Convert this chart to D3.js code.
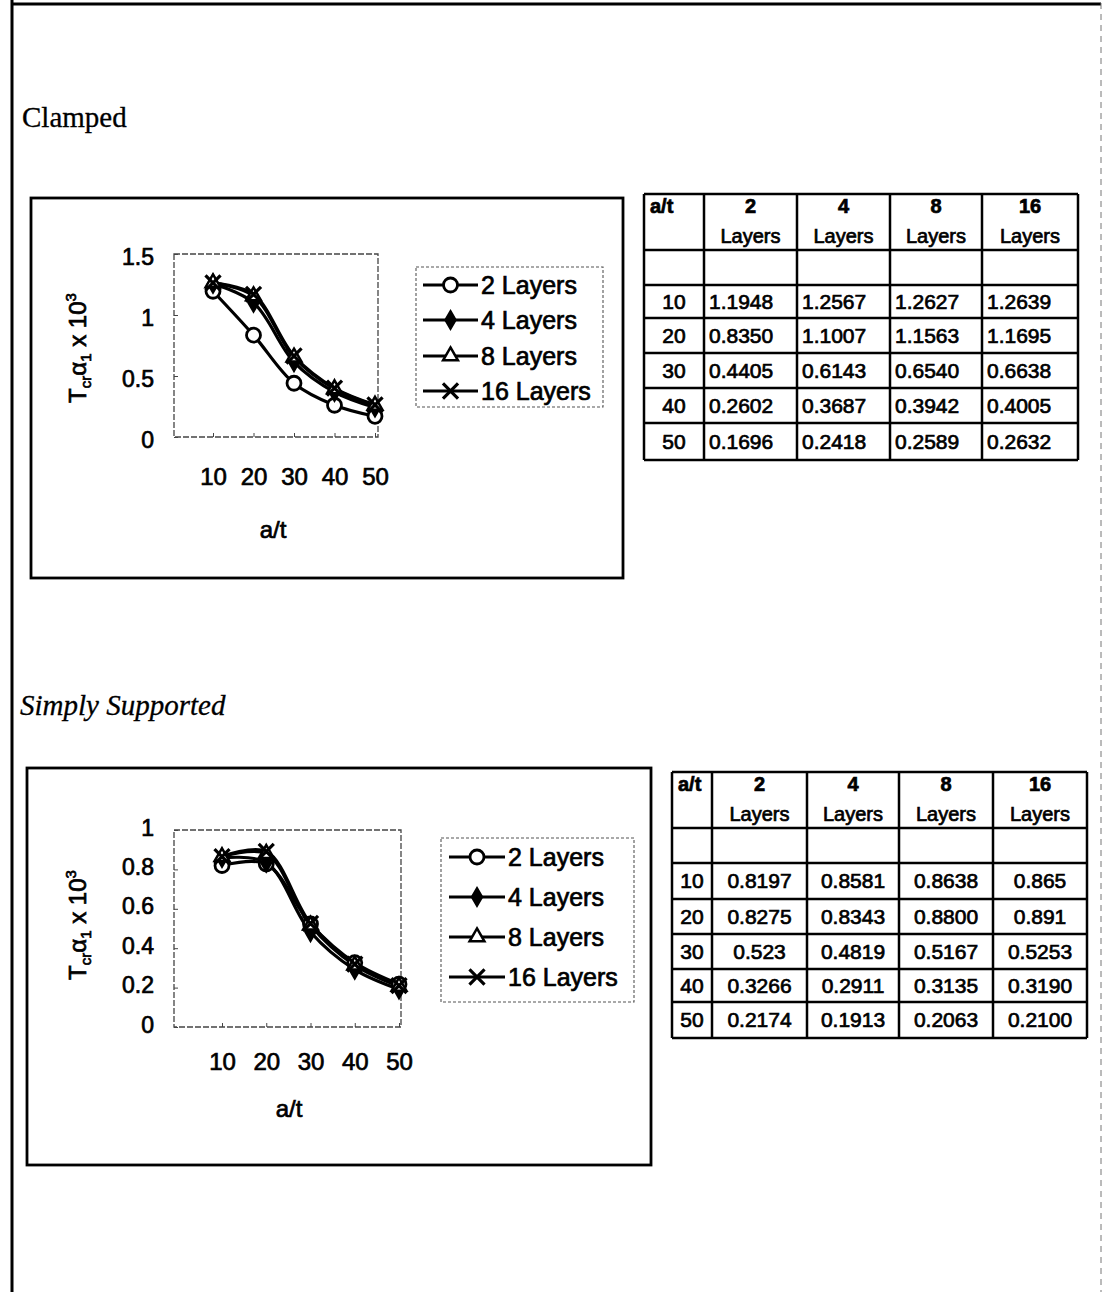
<!DOCTYPE html>
<html>
<head>
<meta charset="utf-8">
<script src="https://cdn.jsdelivr.net/npm/d3@7"></script>
<style>
  body { margin: 0; background: #fff; }
  svg { display: block; }
  .sans { font-family: "Liberation Sans", Arial, sans-serif; fill: #000; stroke: #000; stroke-width: 0.7; }
  .serif { font-family: "Liberation Serif", "Times New Roman", serif; fill: #000; stroke: #000; stroke-width: 0.3; }
</style>
</head>
<body>
<div id="page"></div>
<script>
// a/t values and series names
var atValues = [10, 20, 30, 40, 50];
var seriesNames = ['2 Layers', '4 Layers', '8 Layers', '16 Layers'];
var headNums = ['2', '4', '8', '16'];

// Clamped (as printed in the table)
var clamped2 = ['1.1948', '0.8350', '0.4405', '0.2602', '0.1696'];
var clamped4 = ['1.2567', '1.1007', '0.6143', '0.3687', '0.2418'];
var clamped8 = ['1.2627', '1.1563', '0.6540', '0.3942', '0.2589'];
var clamped16 = ['1.2639', '1.1695', '0.6638', '0.4005', '0.2632'];

// Simply supported
var simply2 = ['0.8197', '0.8275', '0.523', '0.3266', '0.2174'];
var simply4 = ['0.8581', '0.8343', '0.4819', '0.2911', '0.1913'];
var simply8 = ['0.8638', '0.8800', '0.5167', '0.3135', '0.2063'];
var simply16 = ['0.865', '0.891', '0.5253', '0.3190', '0.2100'];

var clampedTicks = [0, 0.5, 1, 1.5];
var simplyTicks = [0, 0.2, 0.4, 0.6, 0.8, 1];

var W = 1103, H = 1292;
var svg = d3.select('#page').append('svg').attr('width', W).attr('height', H);
svg.append('rect').attr('width', W).attr('height', H).attr('fill', '#fff');

// page frame (scanned page edges)
svg.append('line').attr('x1', 12).attr('x2', 12).attr('y1', 0).attr('y2', H)
    .attr('stroke', '#000').attr('stroke-width', 3);
svg.append('line').attr('x1', 11).attr('x2', 1101).attr('y1', 4).attr('y2', 4)
    .attr('stroke', '#000').attr('stroke-width', 3);
svg.append('line').attr('x1', 1101).attr('x2', 1101).attr('y1', 3).attr('y2', H)
    .attr('stroke', '#777').attr('stroke-width', 1).attr('stroke-dasharray', '6,5');

svg.append('text').attr('class', 'serif').attr('x', 22).attr('y', 127)
    .attr('font-size', 29).text('Clamped');
svg.append('text').attr('class', 'serif').attr('x', 20).attr('y', 715)
    .attr('font-size', 29).attr('font-style', 'italic').text('Simply Supported');

function num(arr){ return arr.map(function(s){ return +s; }); }

function marker(g, i, x, y){
    var s;
    if (i === 0){
        g.append('circle').attr('cx', x).attr('cy', y).attr('r', 7)
            .attr('fill', '#fff').attr('stroke', '#000').attr('stroke-width', 2.8);
        return;
    }
    if (i === 1) s = d3.symbol(d3.symbolDiamond, 85);
    if (i === 2) s = d3.symbol(d3.symbolTriangle, 95);
    if (i === 3) s = d3.symbol(d3.symbolX, 150);
    g.append('path').attr('d', s()).attr('transform', 'translate(' + x + ',' + y + ')')
        .attr('fill', i === 1 ? '#000' : (i === 2 ? '#fff' : 'none'))
        .attr('stroke', '#000').attr('stroke-width', i === 3 ? 3.2 : 2.5);
}

function drawChart(c){
    var g = svg.append('g');
    g.append('rect').attr('x', c.box[0]).attr('y', c.box[1])
        .attr('width', c.box[2] - c.box[0]).attr('height', c.box[3] - c.box[1])
        .attr('fill', 'none').attr('stroke', '#000').attr('stroke-width', 2.8);

    var x = d3.scalePoint().domain(atValues).range(c.xr);
    var y = d3.scaleLinear().domain([0, c.ymax]).range([c.plot[3], c.plot[1]]);

    g.append('rect').attr('x', c.plot[0]).attr('y', c.plot[1])
        .attr('width', c.plot[2] - c.plot[0]).attr('height', c.plot[3] - c.plot[1])
        .attr('fill', 'none').attr('stroke', '#444').attr('stroke-width', 1.3)
        .attr('stroke-dasharray', '6,2');

    var ya = g.append('g').attr('transform', 'translate(' + c.plot[0] + ',0)')
        .call(d3.axisLeft(y).tickValues(c.ticks).tickSize(-4).tickFormat(d3.format('~g')));
    ya.select('.domain').remove();
    ya.selectAll('line').attr('stroke', '#444');
    ya.selectAll('text').attr('class', 'sans').attr('x', -20).attr('dy', '0.35em')
        .attr('y', c.tickDy).attr('font-size', 23).attr('text-anchor', 'end');

    var xa = g.append('g').attr('transform', 'translate(0,' + c.plot[3] + ')')
        .call(d3.axisBottom(x).tickSize(-4));
    xa.select('.domain').remove();
    xa.selectAll('line').attr('stroke', '#444');
    xa.selectAll('text').attr('class', 'sans').attr('y', c.xlabY - c.plot[3])
        .attr('dy', '0.35em').attr('font-size', 24);
    ya.attr('font-family', null).attr('font-size', null);
    xa.attr('font-family', null).attr('font-size', null);

    g.append('text').attr('class', 'sans').attr('x', c.titleX[0]).attr('y', c.titleX[1])
        .attr('text-anchor', 'middle').attr('font-size', 24).text('a/t');

    // y title
    var t = g.append('text').attr('class', 'sans').attr('text-anchor', 'middle')
        .attr('transform', 'translate(' + c.titleY[0] + ',' + c.titleY[1] + ') rotate(-90)')
        .attr('dy', '0.35em').attr('font-size', 24);
    t.append('tspan').text('T');
    t.append('tspan').attr('font-size', 15).attr('dy', 5).text(c.crText);
    t.append('tspan').attr('dy', -5).text('α');
    t.append('tspan').attr('font-size', 15).attr('dy', 5).text('1');
    t.append('tspan').attr('dy', -5).text(' x 10');
    t.append('tspan').attr('font-size', 15).attr('dy', -10).text('3');

    var line = d3.line().x(function(d, i){ return x(atValues[i]); })
        .y(function(d){ return y(d); }).curve(d3.curveCatmullRom.alpha(0.5));

    c.series.forEach(function(s){
        g.append('path').attr('d', line(s)).attr('fill', 'none')
            .attr('stroke', '#000').attr('stroke-width', 3.2);
    });
    c.series.forEach(function(s, i){
        s.forEach(function(v, j){ marker(g, i, x(atValues[j]), y(v)); });
    });

    // legend
    var l = c.legend;
    g.append('rect').attr('x', l.box[0]).attr('y', l.box[1])
        .attr('width', l.box[2] - l.box[0]).attr('height', l.box[3] - l.box[1])
        .attr('fill', 'none').attr('stroke', '#555').attr('stroke-width', 1.1)
        .attr('stroke-dasharray', '3,2');
    seriesNames.forEach(function(name, i){
        var yy = l.rows[i];
        g.append('line').attr('x1', l.line[0]).attr('x2', l.line[1]).attr('y1', yy).attr('y2', yy)
            .attr('stroke', '#000').attr('stroke-width', 3);
        marker(g, i, (l.line[0] + l.line[1]) / 2, yy);
        g.append('text').attr('class', 'sans').attr('x', l.line[1] + 3).attr('y', yy)
            .attr('dy', '0.35em').attr('font-size', 25).text(name);
    });
}

function drawTable(t){
    var g = svg.append('g');
    var cols = t.cols, rows = t.rows;
    cols.forEach(function(cx){
        g.append('line').attr('x1', cx).attr('x2', cx).attr('y1', rows[0]).attr('y2', rows[rows.length - 1])
            .attr('stroke', '#000').attr('stroke-width', 2.5);
    });
    rows.forEach(function(ry){
        g.append('line').attr('x1', cols[0]).attr('x2', cols[cols.length - 1]).attr('y1', ry).attr('y2', ry)
            .attr('stroke', '#000').attr('stroke-width', 2.5);
    });
    g.append('text').attr('class', 'sans').attr('x', cols[0] + 6).attr('y', rows[0] + 12)
        .attr('dy', '0.35em').attr('font-size', 20).attr('font-weight', 'bold').text('a/t');
    headNums.forEach(function(h, i){
        var cx = (cols[i + 1] + cols[i + 2]) / 2;
        g.append('text').attr('class', 'sans').attr('x', cx).attr('y', rows[0] + 12)
            .attr('dy', '0.35em').attr('text-anchor', 'middle').attr('font-size', 20)
            .attr('font-weight', 'bold').text(h);
        g.append('text').attr('class', 'sans').attr('x', cx).attr('y', rows[0] + 42)
            .attr('dy', '0.35em').attr('text-anchor', 'middle').attr('font-size', 20).text('Layers');
    });
    atValues.forEach(function(a, r){
        var cy = (rows[r + 2] + rows[r + 3]) / 2;
        g.append('text').attr('class', 'sans').attr('x', (cols[0] + cols[1]) / 2).attr('y', cy)
            .attr('dy', '0.35em').attr('text-anchor', 'middle').attr('font-size', 21).text(a);
        t.data.forEach(function(col, i){
            var tx = t.left ? cols[i + 1] + 5 : (cols[i + 1] + cols[i + 2]) / 2;
            g.append('text').attr('class', 'sans').attr('x', tx).attr('y', cy)
                .attr('dy', '0.35em').attr('text-anchor', t.left ? 'start' : 'middle')
                .attr('font-size', 21).text(col[r]);
        });
    });
}

drawChart({
    box: [31, 198, 623, 578],
    plot: [174, 254, 378, 437],
    xr: [213, 375],
    ymax: 1.5,
    ticks: clampedTicks,
    tickDy: 2,
    xlabY: 477,
    titleX: [273, 538],
    titleY: [78, 348],
    crText: 'cr',
    series: [num(clamped2), num(clamped4), num(clamped8), num(clamped16)],
    legend: { box: [416, 267, 603, 407], rows: [285, 320, 356, 391], line: [423, 478] }
});

drawChart({
    box: [27, 768, 651, 1165],
    plot: [174, 830, 401, 1027],
    xr: [222, 399],
    ymax: 1,
    ticks: simplyTicks,
    tickDy: -3,
    xlabY: 1062,
    titleX: [289, 1117],
    titleY: [78, 925],
    crText: 'cr',
    series: [num(simply2), num(simply4), num(simply8), num(simply16)],
    legend: { box: [441, 838, 634, 1002], rows: [857, 897, 937, 977], line: [449, 505] }
});

drawTable({
    cols: [644, 704, 797, 890, 982, 1078],
    rows: [194, 250, 285, 318, 353, 388, 423, 460],
    left: true,
    data: [clamped2, clamped4, clamped8, clamped16]
});

drawTable({
    cols: [672, 712, 807, 899, 993, 1087],
    rows: [772, 828, 863, 899, 934, 969, 1002, 1038],
    left: false,
    data: [simply2, simply4, simply8, simply16]
});
</script>
</body>
</html>
